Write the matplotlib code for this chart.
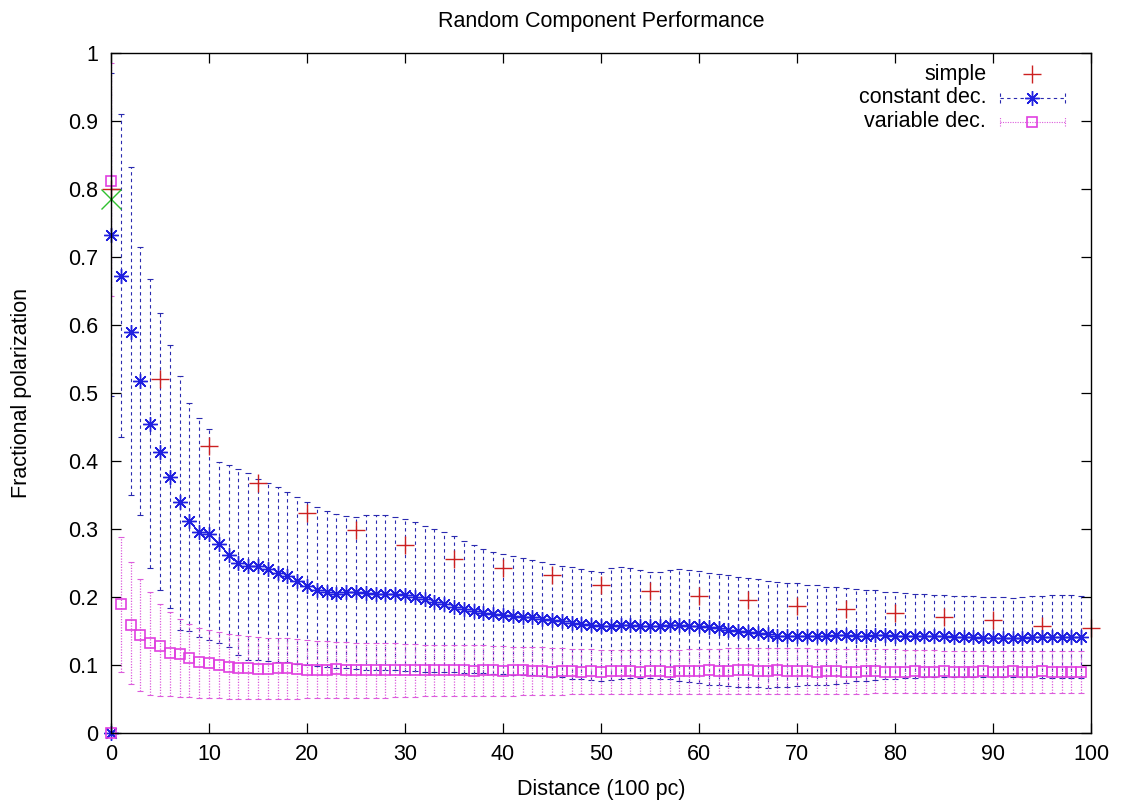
import numpy as np
import matplotlib
matplotlib.use("Agg")
import matplotlib.pyplot as plt
from matplotlib.ticker import FuncFormatter, MultipleLocator

plt.rcParams['font.family'] = ['Liberation Sans', 'DejaVu Sans']

# ---- data ----
dist = np.arange(100)

simple_x = [0, 5, 10, 15, 20, 25, 30, 35, 40, 45, 50, 55, 60, 65, 70, 75, 80, 85, 90, 95, 100]
simple_y = [0.800, 0.520, 0.422, 0.368, 0.324, 0.299, 0.277, 0.256, 0.243, 0.232, 0.218,
            0.209, 0.201, 0.196, 0.187, 0.182, 0.176, 0.171, 0.166, 0.157, 0.154]

const_y = [0.733, 0.672, 0.590, 0.517, 0.455, 0.413, 0.376, 0.339, 0.312, 0.296,
           0.293, 0.278, 0.262, 0.250, 0.245, 0.246, 0.241, 0.236, 0.231, 0.224,
           0.216, 0.211, 0.207, 0.205, 0.208, 0.207, 0.206, 0.205, 0.204, 0.204,
           0.203, 0.200, 0.197, 0.193, 0.189, 0.185, 0.182, 0.179, 0.177, 0.175,
           0.174, 0.172, 0.171, 0.170, 0.168, 0.166, 0.164, 0.162, 0.160, 0.159,
           0.158, 0.158, 0.159, 0.159, 0.158, 0.158, 0.158, 0.159, 0.159, 0.158,
           0.157, 0.156, 0.154, 0.152, 0.150, 0.149, 0.147, 0.145, 0.143, 0.142,
           0.142, 0.143, 0.143, 0.143, 0.144, 0.144, 0.143, 0.143, 0.144, 0.144,
           0.143, 0.143, 0.142, 0.142, 0.142, 0.142, 0.141, 0.141, 0.141, 0.140,
           0.139, 0.139, 0.139, 0.140, 0.141, 0.141, 0.141, 0.141, 0.141, 0.141]
const_hi = [0.970, 0.910, 0.833, 0.715, 0.667, 0.617, 0.570, 0.525, 0.486, 0.463,
            0.447, 0.399, 0.394, 0.388, 0.382, 0.373, 0.367, 0.362, 0.354, 0.347,
            0.339, 0.333, 0.327, 0.322, 0.319, 0.318, 0.320, 0.320, 0.320, 0.318,
            0.315, 0.310, 0.305, 0.300, 0.295, 0.289, 0.283, 0.277, 0.271, 0.266,
            0.263, 0.260, 0.257, 0.254, 0.251, 0.248, 0.246, 0.244, 0.241, 0.238,
            0.237, 0.242, 0.244, 0.242, 0.240, 0.237, 0.237, 0.239, 0.241, 0.240,
            0.238, 0.236, 0.234, 0.232, 0.230, 0.228, 0.226, 0.224, 0.222, 0.221,
            0.220, 0.218, 0.217, 0.215, 0.214, 0.213, 0.212, 0.211, 0.210, 0.208,
            0.207, 0.206, 0.205, 0.204, 0.203, 0.203, 0.202, 0.201, 0.201, 0.200,
            0.200, 0.200, 0.199, 0.200, 0.201, 0.202, 0.203, 0.203, 0.203, 0.202]
const_lo = [0.495, 0.435, 0.350, 0.320, 0.243, 0.210, 0.184, 0.151, 0.150, 0.141,
            0.137, 0.132, 0.127, 0.115, 0.108, 0.107, 0.106, 0.105, 0.104, 0.102,
            0.100, 0.098, 0.097, 0.096, 0.095, 0.094, 0.093, 0.093, 0.092, 0.092,
            0.091, 0.091, 0.090, 0.090, 0.089, 0.089, 0.088, 0.088, 0.088, 0.087,
            0.087, 0.086, 0.086, 0.085, 0.084, 0.083, 0.082, 0.080, 0.079, 0.078,
            0.077, 0.078, 0.079, 0.081, 0.081, 0.081, 0.080, 0.079, 0.077, 0.075,
            0.073, 0.071, 0.070, 0.069, 0.068, 0.067, 0.067, 0.066, 0.067, 0.068,
            0.069, 0.070, 0.070, 0.071, 0.072, 0.074, 0.076, 0.077, 0.078, 0.079,
            0.080, 0.081, 0.081, 0.082, 0.082, 0.082, 0.082, 0.083, 0.083, 0.083,
            0.083, 0.083, 0.082, 0.082, 0.082, 0.081, 0.081, 0.081, 0.081, 0.081]

var_y = [0.812, 0.190, 0.159, 0.144, 0.132, 0.128, 0.117, 0.116, 0.110, 0.104,
         0.103, 0.100, 0.097, 0.096, 0.095, 0.094, 0.094, 0.095, 0.095, 0.094,
         0.093, 0.093, 0.093, 0.094, 0.093, 0.093, 0.092, 0.093, 0.092, 0.092,
         0.092, 0.093, 0.092, 0.092, 0.093, 0.092, 0.092, 0.091, 0.092, 0.092,
         0.091, 0.092, 0.092, 0.091, 0.091, 0.090, 0.091, 0.091, 0.090, 0.091,
         0.090, 0.091, 0.091, 0.091, 0.090, 0.091, 0.091, 0.090, 0.091, 0.091,
         0.091, 0.092, 0.091, 0.091, 0.092, 0.092, 0.091, 0.091, 0.092, 0.091,
         0.091, 0.091, 0.090, 0.091, 0.091, 0.090, 0.090, 0.091, 0.091, 0.090,
         0.090, 0.090, 0.091, 0.090, 0.090, 0.091, 0.090, 0.090, 0.090, 0.091,
         0.090, 0.090, 0.091, 0.090, 0.090, 0.091, 0.090, 0.090, 0.090, 0.090]
var_hi = [0.985, 0.288, 0.251, 0.227, 0.208, 0.190, 0.178, 0.168, 0.160, 0.155,
          0.151, 0.148, 0.146, 0.144, 0.142, 0.141, 0.140, 0.139, 0.139, 0.138,
          0.137, 0.136, 0.135, 0.134, 0.134, 0.133, 0.133, 0.132, 0.132, 0.132,
          0.131, 0.131, 0.130, 0.130, 0.130, 0.130, 0.129, 0.129, 0.129, 0.128,
          0.128, 0.127, 0.127, 0.126, 0.126, 0.125, 0.125, 0.124, 0.123, 0.123,
          0.122, 0.122, 0.122, 0.122, 0.122, 0.122, 0.122, 0.122, 0.122, 0.123,
          0.123, 0.124, 0.124, 0.125, 0.125, 0.125, 0.125, 0.125, 0.125, 0.125,
          0.125, 0.125, 0.124, 0.124, 0.124, 0.124, 0.124, 0.124, 0.123, 0.123,
          0.123, 0.122, 0.122, 0.122, 0.122, 0.121, 0.121, 0.121, 0.121, 0.121,
          0.121, 0.121, 0.121, 0.121, 0.121, 0.121, 0.121, 0.121, 0.121, 0.121]
var_lo = [0.643, 0.090, 0.072, 0.062, 0.056, 0.055, 0.054, 0.053, 0.053, 0.052,
          0.051, 0.051, 0.050, 0.050, 0.050, 0.050, 0.050, 0.050, 0.050, 0.050,
          0.051, 0.051, 0.051, 0.051, 0.051, 0.052, 0.052, 0.052, 0.052, 0.053,
          0.053, 0.053, 0.054, 0.054, 0.054, 0.054, 0.055, 0.055, 0.055, 0.055,
          0.055, 0.055, 0.056, 0.056, 0.056, 0.056, 0.056, 0.057, 0.057, 0.057,
          0.057, 0.057, 0.058, 0.058, 0.058, 0.058, 0.058, 0.058, 0.058, 0.058,
          0.058, 0.058, 0.058, 0.058, 0.058, 0.058, 0.058, 0.058, 0.058, 0.058,
          0.058, 0.058, 0.058, 0.058, 0.058, 0.058, 0.058, 0.058, 0.059, 0.059,
          0.059, 0.059, 0.059, 0.059, 0.059, 0.059, 0.059, 0.059, 0.059, 0.059,
          0.059, 0.059, 0.059, 0.059, 0.059, 0.059, 0.059, 0.059, 0.059, 0.059]

# stray points sitting on the axis at distance 0
origin_x = [0]
origin_y = [0.0]
reference_x = [0]
reference_y = [0.785]

RED = '#cc2020'
BLUE = '#2020e0'
BAR_BLUE = '#2a2ab0'
MAGENTA = '#e040e0'
BAR_MAGENTA = '#dc5cdc'
GREEN = '#30c030'

star = (8, 2, 0)
STAR_MS = 10.5
SQ_MS = 7.5

fig = plt.figure(figsize=(11.25, 8.07), dpi=100)
ax = fig.add_axes([111 / 1125, 1 - 733 / 807, 980 / 1125, 680 / 807])

# constant dec. error bars
cy = np.array(const_y)
eb = ax.errorbar(dist, cy, yerr=[cy - np.array(const_lo), np.array(const_hi) - cy],
                 fmt='none', ecolor=BAR_BLUE, elinewidth=0.8, capsize=2.5, capthick=0.8)
eb[2][0].set_linestyle((0, (3, 3)))

# variable dec. error bars
vy = np.array(var_y)
eb2 = ax.errorbar(dist, vy, yerr=[vy - np.array(var_lo), np.array(var_hi) - vy],
                  fmt='none', ecolor=BAR_MAGENTA, elinewidth=0.9, capsize=2.5, capthick=0.8)
eb2[2][0].set_linestyle((0, (1, 1.2)))

# markers
ax.plot(simple_x, simple_y, ls='none', marker='+', ms=13, mew=1.0, color=RED, clip_on=False, zorder=4)
ax.plot(dist, const_y, ls='none', marker=star, ms=STAR_MS, mew=1.0, color=BLUE, clip_on=False, zorder=4)
ax.plot(origin_x, origin_y, ls='none', marker=star, ms=STAR_MS, mew=1.0, color=BLUE, clip_on=False, zorder=5)
ax.plot(dist, var_y, ls='none', marker='s', ms=SQ_MS, mew=1.2, mfc='none', mec=MAGENTA, clip_on=False, zorder=5)
ax.plot(origin_x, origin_y, ls='none', marker='s', ms=SQ_MS, mew=1.2, mfc='none', mec=MAGENTA, clip_on=False, zorder=5)
ax.plot(reference_x, reference_y, ls='none', marker='x', ms=14, mew=1.0, color=GREEN, clip_on=False, zorder=5)

ax.set_xlim(0, 100)
ax.set_ylim(0, 1)
ax.xaxis.set_major_locator(MultipleLocator(10))
ax.yaxis.set_major_locator(MultipleLocator(0.1))
ax.yaxis.set_major_formatter(FuncFormatter(lambda v, p: '%g' % round(v, 2)))
ax.tick_params(direction='in', length=7, width=0.9, top=True, right=True, labelsize=15.5)
ax.tick_params(axis='y', pad=9)
ax.tick_params(axis='x', pad=8)
for s in ax.spines.values():
    s.set_linewidth(1.0)
    s.set_zorder(6)

ax.set_title('Random Component Performance', fontsize=15.5, pad=19)
ax.set_xlabel('Distance (100 pc)', fontsize=15.5)
ax.set_ylabel('Fractional polarization', fontsize=15.5)
ax.xaxis.label.set_va('center')
ax.xaxis.set_label_coords(0.5, -56 / 680)
ax.yaxis.label.set_va('center')
ax.yaxis.set_label_coords(-89 / 980, 0.5)

# gnuplot-style key: right-aligned text, sample on the right
tr = ax.transAxes
key_rows = [0.969, 0.934, 0.899]
key_labels = ['simple', 'constant dec.', 'variable dec.']
for yk, lab in zip(key_rows, key_labels):
    ax.text(0.893, yk, lab, transform=tr, ha='right', va='center', fontsize=15.5)
ax.plot([0.940], [key_rows[0]], transform=tr, ls='none', marker='+', ms=13, mew=1.0, color=RED, clip_on=False)
for yk, col, ls in [(key_rows[1], BAR_BLUE, (0, (3, 3))), (key_rows[2], BAR_MAGENTA, (0, (1, 1.2)))]:
    ax.plot([0.907, 0.973], [yk, yk], transform=tr, color=col, lw=0.8, ls=ls, clip_on=False)
    for xe in (0.907, 0.973):
        ax.plot([xe, xe], [yk - 0.007, yk + 0.007], transform=tr, color=col, lw=0.8, ls=ls, clip_on=False)
ax.plot([0.940], [key_rows[1]], transform=tr, ls='none', marker=star, ms=STAR_MS, mew=1.0, color=BLUE, clip_on=False)
ax.plot([0.940], [key_rows[2]], transform=tr, ls='none', marker='s', ms=SQ_MS, mew=1.2, mfc='none', mec=MAGENTA, clip_on=False)

fig.savefig('out.png', dpi=100)
